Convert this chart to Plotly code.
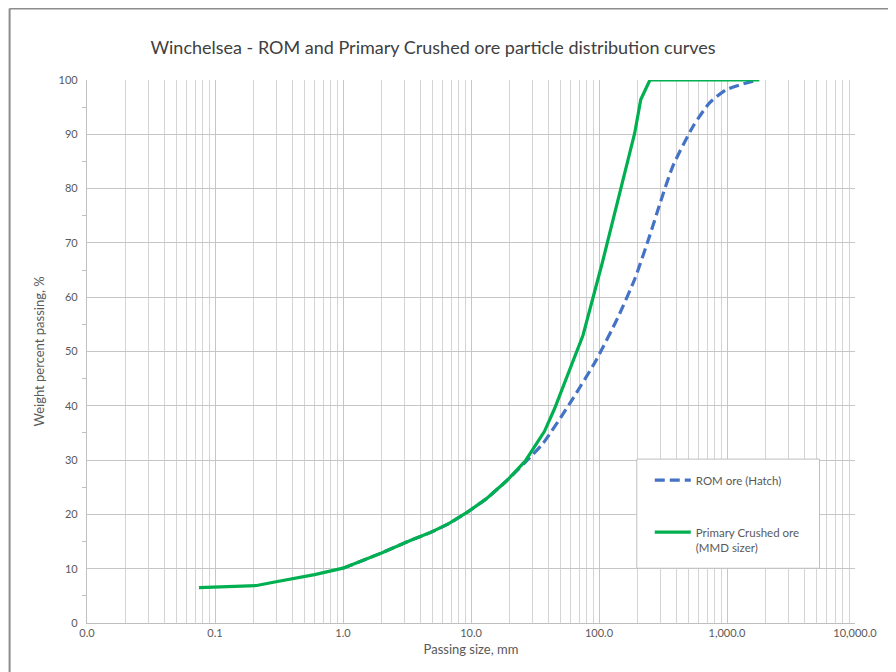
import plotly.graph_objects as go

# ---- data ----
rom_size = [1.0, 2.0, 3.35, 4.75, 6.7, 9.5, 13.2, 19.0, 26.5, 36.6, 59.0, 95.0,
            140.0, 190.0, 248.0, 300.0, 377.0, 541.0, 731.0, 986.0, 1300.0, 1738.0]
rom_pass = [10.1, 12.9, 15.2, 16.6, 18.3, 20.5, 22.9, 26.2, 29.6, 33.1, 40.4, 48.4,
            56.2, 63.3, 71.2, 77.3, 84.1, 91.4, 95.8, 98.2, 99.2, 100.0]

crushed_size = [0.075, 0.15, 0.212, 0.3, 0.6, 1.0, 2.0, 3.35, 4.75, 6.7, 9.5, 13.2,
                19.0, 26.5, 37.5, 45.0, 53.0, 66.6, 75.0, 106.0, 150.0, 190.0, 212.0,
                250.0, 500.0, 1000.0, 1790.0]
crushed_pass = [6.5, 6.7, 6.9, 7.6, 8.9, 10.1, 12.9, 15.2, 16.6, 18.3, 20.5, 22.9,
                26.2, 29.8, 35.3, 39.5, 43.8, 49.5, 53.0, 66.3, 80.4, 90.2, 96.4,
                100.0, 100.0, 100.0, 100.0]

x_tickvals = [0.01, 0.1, 1, 10, 100, 1000, 10000]
x_ticktext = ["0.0", "0.1", "1.0", "10.0", "100.0", "1,000.0", "10,000.0"]

title_text = "Winchelsea - ROM and Primary Crushed ore particle distribution curves"
x_title = "Passing size, mm"
y_title = "Weight percent passing, %"
rom_name = "ROM ore (Hatch)"
crushed_name = "Primary Crushed ore<br>(MMD sizer)"

minor_vals = [m * 10 ** e for e in range(-2, 4) for m in range(2, 10)]

FONT = "Lato"
TXT = "#595959"
GRID = "#c6c6c6"

fig = go.Figure()
fig.add_trace(go.Scatter(
    x=rom_size, y=rom_pass, mode="lines", name=rom_name, legendgroup="a",
    line=dict(color="#4472c4", width=3.2, dash="10px,5px", shape="spline", smoothing=0.6),
))
fig.add_trace(go.Scatter(
    x=crushed_size, y=crushed_pass, mode="lines", name=crushed_name, legendgroup="b",
    line=dict(color="#00b050", width=3.2),
))

# the page body adds an 8px offset; compensate so page coords match the reference
OFF = 8
W, H = 896 - OFF, 672 - OFF
L, R, T, B = 86.5 - OFF, 40.5, 80.3 - OFF, 49.3
pw, ph = W - L - R, H - T - B

def px_x(p):  # page pixel -> paper fraction
    return (p - OFF - L) / pw

def px_y(p):
    return (H - B - (p - OFF)) / ph

shapes = [
    # outer frame (top and left)
    dict(type="line", xref="paper", yref="paper", x0=px_x(9), x1=px_x(900),
         y0=px_y(9), y1=px_y(9), line=dict(color="#8c8c8c", width=2)),
    dict(type="line", xref="paper", yref="paper", x0=px_x(9), x1=px_x(9),
         y0=px_y(9), y1=px_y(680), line=dict(color="#8c8c8c", width=2)),
    # legend box
    dict(type="rect", xref="paper", yref="paper", layer="above",
         x0=px_x(637), x1=px_x(820), y0=px_y(568), y1=px_y(459),
         fillcolor="white", line=dict(color="#bfbfbf", width=1)),
]

fig.update_layout(
    width=W, height=H,
    margin=dict(l=L, r=R, t=T, b=B, pad=0),
    paper_bgcolor="white", plot_bgcolor="white",
    font=dict(family=FONT, size=11, color=TXT),
    title=dict(text=title_text, x=(433 - OFF) / W, xanchor="center",
               y=1 - (48 - OFF) / H, yanchor="middle",
               font=dict(family=FONT, size=18, color="#404040")),
    showlegend=True,
    legend=dict(x=px_x(650), y=px_y(466), xanchor="left", yanchor="top",
                bgcolor="rgba(0,0,0,0)", borderwidth=0,
                traceorder="grouped", tracegroupgap=33, valign="top",
                font=dict(family=FONT, size=11.5, color=TXT),
                itemwidth=36),
    shapes=shapes,
    xaxis=dict(
        type="log", range=[-2, 4], tickvals=x_tickvals, ticktext=x_ticktext,
        showgrid=True, gridcolor=GRID, gridwidth=1.3,
        minor=dict(tickvals=minor_vals, showgrid=True, gridcolor="#d4d4d4", gridwidth=1.2, ticks=""),
        showline=True, linecolor="#bfbfbf", linewidth=1.3, mirror=False,
        ticks="", zeroline=False,
        tickfont=dict(family=FONT, size=11, color=TXT),
        title=dict(text=x_title, font=dict(family=FONT, size=13, color=TXT), standoff=6),
    ),
    yaxis=dict(
        range=[0, 100], dtick=10, tick0=0,
        showgrid=True, gridcolor=GRID, gridwidth=1.3,
        minor=dict(dtick=5, ticks="outside", ticklen=4, tickcolor="#bfbfbf", showgrid=False),
        showline=True, linecolor="#bfbfbf", linewidth=1.3,
        ticks="", zeroline=False, ticklabelstandoff=6,
        tickfont=dict(family=FONT, size=11, color=TXT),
        title=dict(text=y_title, font=dict(family=FONT, size=13, color=TXT), standoff=10),
    ),
)

fig.write_html("out.html")
